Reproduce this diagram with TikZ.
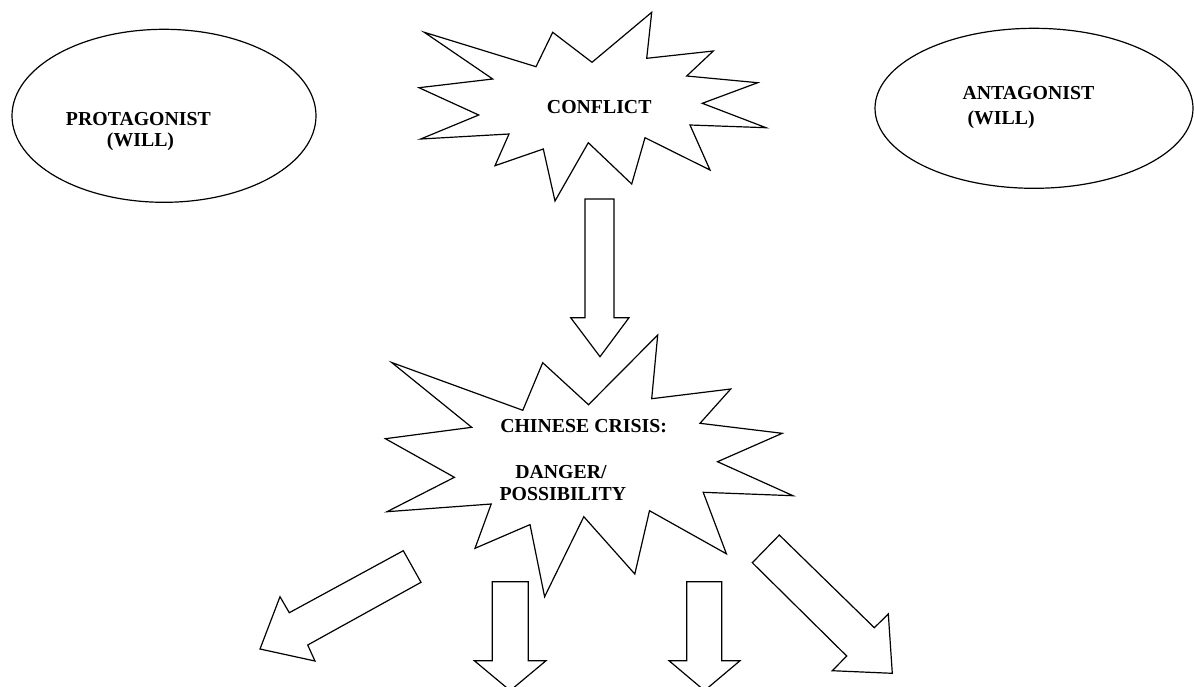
\documentclass[tikz,border=0pt]{standalone}
\usepackage{fontspec}
\setmainfont{Liberation Serif}
\newcommand{\wordfont}{\fontsize{14.85}{16.5}\selectfont\bfseries}

\tikzset{
  outline/.style={draw=black, line width=0.9pt, line join=miter, fill=white},
  txt/.style={anchor=base west, inner sep=0pt, font=\wordfont}
}

\begin{document}
\begin{tikzpicture}[x=0.75pt, y=-0.75pt]
\clip (0,0) rectangle (1194,686);

% the two wills
\draw[outline] (164,115.8) ellipse [x radius=152, y radius=86.5];
\draw[outline] (1034,108.3) ellipse [x radius=159, y radius=80];
\node[txt](protag) at (65.7,125) {PROTAGONIST};
\node[txt](protagwill) at (106.7,146) {(WILL)};
\node[txt](antag) at (962.3,99.3) {ANTAGONIST};
\node[txt](antagwill) at (967.3,124) {(WILL)};

% conflict
\draw[outline] (424.3,32.3) -- (536,66.7) -- (552.7,32.3) -- (592,62.3) -- (651.7,12.3)
  -- (646.7,58.3) -- (713.3,51) -- (686.7,76) -- (757.7,82.7) -- (702.3,103.3)
  -- (766,127.7) -- (690,125) -- (710,170) -- (645,137.7) -- (631.7,184)
  -- (588.3,142.7) -- (555,201) -- (543.3,149) -- (495,165.7) -- (509,134)
  -- (420.7,139) -- (478.7,115) -- (419,87.7) -- (492.7,79) -- cycle;
\node[txt](conflict) at (546.7,113.3) {CONFLICT};

% down to the crisis
\draw[outline] (585,199) -- (614,199) -- (614,317.7) -- (629,317.7) -- (600,356.7)
  -- (570.7,317.7) -- (585,317.7) -- cycle;

% crisis
\draw[outline] (391.7,362.5) -- (522.8,410.3) -- (542.7,362.7) -- (588.5,404.7) -- (657.7,335)
  -- (651.7,398.7) -- (730.7,389) -- (700,423.3) -- (782.2,433.3) -- (717.5,461.7)
  -- (793,495.7) -- (703.2,492.3) -- (726.4,553.8) -- (649.5,510.7) -- (634.8,574)
  -- (583.8,516.7) -- (544.6,596.7) -- (530,524.6) -- (475,548.3) -- (491.2,504)
  -- (387,511.7) -- (454.4,477.3) -- (385.4,438.7) -- (471.7,427.3) -- cycle;
\node[txt](crisis) at (500,432.7) {CHINESE CRISIS:};
\node[txt](danger) at (515,478.3) {DANGER/};
\node[txt](possib) at (499.3,500) {POSSIBILITY};

% four ways out
\draw[outline] (403.3,550.7) -- (421,582.3) -- (307.7,645) -- (315,661) -- (260,649)
  -- (280,596.7) -- (289.3,612.7) -- cycle;
\draw[outline] (492.3,581.7) -- (528.3,581.7) -- (528.3,660.7) -- (546,660.7) -- (510.2,690.6)
  -- (474.3,660.7) -- (492.3,660.7) -- cycle;
\draw[outline] (686.7,581.7) -- (721.7,581.7) -- (721.7,660.7) -- (740,660.7) -- (704.5,690.6)
  -- (669,660.7) -- (686.7,660.7) -- cycle;
\draw[outline] (779.3,535) -- (874.3,627.7) -- (888.3,614) -- (892.3,673.3) -- (832.3,670.7)
  -- (846.7,656) -- (752.3,562.7) -- cycle;
\end{tikzpicture}
\end{document}
